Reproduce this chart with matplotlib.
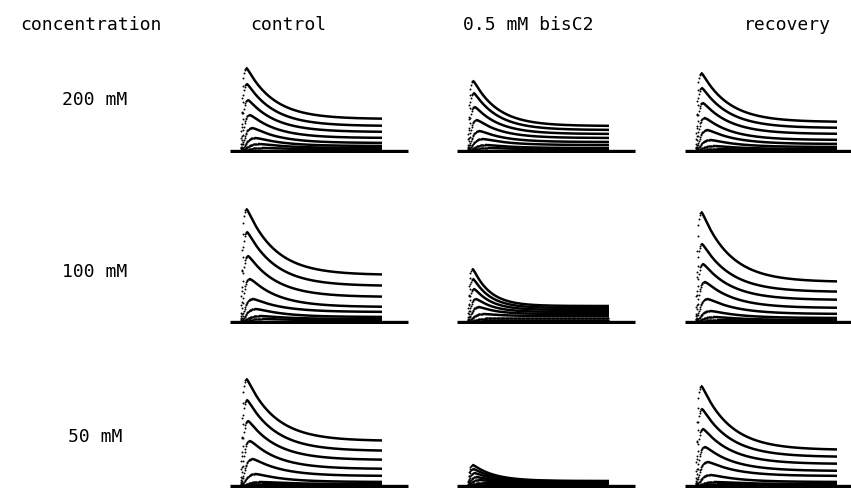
import numpy as np
import matplotlib
matplotlib.use("Agg")
import matplotlib.pyplot as plt

# ---------------- data ----------------
column_titles = ["control", "0.5 mM bisC2", "recovery"]
concentrations = ["200 mM", "100 mM", "50 mM"]
header = "concentration"

# peak and steady-state (end of pulse) current amplitudes, one value per voltage step
peak_200_control = [83, 67, 51, 36, 23, 13, 7, 3]
steady_200_control = [32, 25, 19, 13, 8, 5, 3, 1.5]
peak_200_bisc2 = [70, 58, 44, 31, 20, 12, 6, 3]
steady_200_bisc2 = [25, 21, 17, 13, 9, 6, 3, 1.5]
peak_200_recovery = [78, 63, 48, 33, 21, 11, 5, 2]
steady_200_recovery = [29, 23, 17, 11, 7, 4, 2, 1]

peak_100_control = [113, 90, 66, 43, 23, 13, 6, 3]
steady_100_control = [47, 36, 25, 15, 10, 5, 3, 1.5]
peak_100_bisc2 = [53, 43, 33, 23, 15, 8, 4, 2]
steady_100_bisc2 = [16, 14, 12, 10, 8, 6, 4, 2]
peak_100_recovery = [110, 78, 58, 40, 23, 11, 5, 2]
steady_100_recovery = [40, 30, 22, 14, 8, 4, 2, 1]

peak_50_control = [107, 86, 65, 45, 27, 12, 4, 2]
steady_50_control = [45, 35, 26, 17, 10, 4, 2, 1]
peak_50_bisc2 = [21, 17, 13, 9, 6, 3, 1.5, 1]
steady_50_bisc2 = [5, 4.5, 4, 3.5, 3, 2, 1, 0.5]
peak_50_recovery = [100, 77, 57, 39, 24, 11, 4, 2]
steady_50_recovery = [36, 29, 22, 15, 10, 4, 2, 1]

# kinetics (ms)
activation_tau = [0.9, 1.0, 1.2, 1.6, 2.2, 3.0, 4.0, 5.0]
decay_tau = [[19, 17, 19],
             [20, 12, 20],
             [20, 15, 20]]
pulse_ms = 100

peaks = [[peak_200_control, peak_200_bisc2, peak_200_recovery],
         [peak_100_control, peak_100_bisc2, peak_100_recovery],
         [peak_50_control, peak_50_bisc2, peak_50_recovery]]
steadies = [[steady_200_control, steady_200_bisc2, steady_200_recovery],
            [steady_100_control, steady_100_bisc2, steady_100_recovery],
            [steady_50_control, steady_50_bisc2, steady_50_recovery]]

# ---------------- layout ----------------
W, H = 851, 489
fig = plt.figure(figsize=(W / 100, H / 100), dpi=100)
fig.patch.set_facecolor("white")

px_per_ms = 1.42
onset_px = [240, 467, 695]
baseline_px = [152, 323, 487]
FONT = "DejaVu Sans Mono"


def make_trace(P, S, tau_m, tau_h, t):
    m3 = (1 - np.exp(-t / tau_m)) ** 3
    lo, hi = 0.0, 30.0 * P + 1
    for _ in range(60):
        mid = 0.5 * (lo + hi)
        if np.max(m3 * (S + mid * np.exp(-t / tau_h))) < P:
            lo = mid
        else:
            hi = mid
    return m3 * (S + lo * np.exp(-t / tau_h))


t = np.arange(0, pulse_ms + 0.001, 0.05)

for r in range(3):
    for c in range(3):
        left = onset_px[c] - 8 * px_per_ms
        width = min(128 * px_per_ms, W - left)
        ax = fig.add_axes([left / W, 1 - (baseline_px[r] + 2) / H,
                           width / W, 120 / H])
        ax.set_xlim(-8, -8 + width / px_per_ms)
        ax.set_ylim(-2, 118)
        ax.axis("off")
        # baseline
        ax.plot([-7, 118], [0, 0], color="black", lw=2.4,
                solid_capstyle="butt")
        for i, (P, S) in enumerate(zip(peaks[r][c], steadies[r][c])):
            y = make_trace(P, S, activation_tau[i], decay_tau[r][c], t)
            ip = int(np.argmax(y))
            # rising phase: sparse samples (dotted)
            td = np.arange(0.4, t[ip], 0.4)
            yd = np.interp(td, t, y)
            ax.plot(td, yd, linestyle="none", marker="o", ms=1.4,
                    color="black", mec="none")
            # decay and plateau
            ax.plot(t[ip:], y[ip:], color="black", lw=1.8,
                    solid_capstyle="butt")

# texts
fig.text(91 / W, 1 - 25 / H, header, ha="center", va="center",
         fontsize=13, family=FONT)
for x, s in zip([288, 528, 787], column_titles):
    fig.text(x / W, 1 - 25 / H, s, ha="center", va="center",
             fontsize=13, family=FONT)
for y, s in zip([100, 272, 437], concentrations):
    fig.text(95 / W, 1 - y / H, s, ha="center", va="center",
             fontsize=13, family=FONT)

fig.savefig("out.png", dpi=100, facecolor="white")
